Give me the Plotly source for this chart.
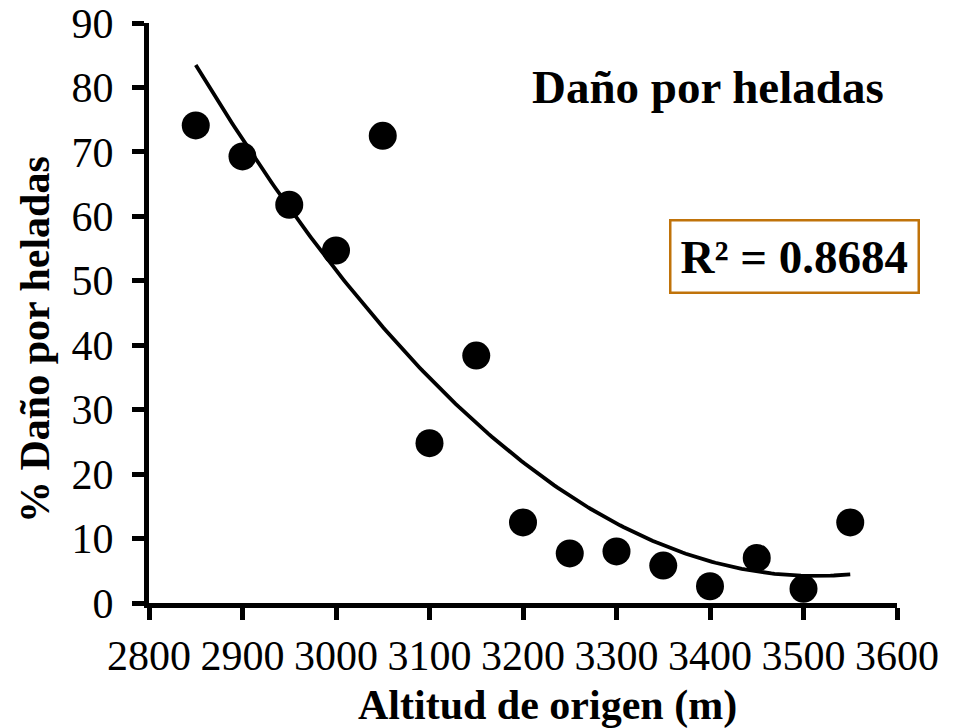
import numpy as np
import plotly.graph_objects as go

# Altitude of origin (m) and frost damage (%)
altitud = [2850, 2900, 2950, 3000, 3050, 3100, 3150, 3200,
           3250, 3300, 3350, 3400, 3450, 3500, 3550]
dano = [74.1, 69.3, 61.8, 54.7, 72.5, 24.8, 38.4, 12.5,
        7.7, 8.0, 5.8, 2.6, 7.0, 2.2, 12.5]

x_ticks = list(range(2800, 3601, 100))
y_ticks = list(range(0, 91, 10))

# Second-order polynomial trendline
coef = np.polyfit(altitud, dano, 2)
x_fit = np.linspace(min(altitud), max(altitud), 200)
y_fit = np.polyval(coef, x_fit)

FONT = "Liberation Serif"
L, R, T, B = 149, 56, 23, 125
W, H = 953, 728
PW, PH = W - L - R, H - T - B


def px_to_paper(px, py):
    return (px - L) / PW, (H - B - py) / PH


fig = go.Figure()
fig.add_trace(go.Scatter(
    x=altitud, y=dano, mode="markers",
    marker=dict(color="black", size=28, line=dict(width=0)),
    showlegend=False,
))
fig.add_trace(go.Scatter(
    x=x_fit, y=y_fit, mode="lines",
    line=dict(color="black", width=3.8),
    showlegend=False,
))

fig.add_annotation(
    x=3398, y=80.1, xref="x", yref="y",
    text="<b>Daño por heladas</b>", showarrow=False,
    xanchor="center", yanchor="middle",
    font=dict(family=FONT, size=47, color="black"),
)
fig.add_annotation(
    x=3490, y=53.7, xref="x", yref="y",
    text="<b>R² = 0.8684</b>", showarrow=False,
    xanchor="center", yanchor="middle",
    font=dict(family=FONT, size=47, color="black"),
    bordercolor="#C0730A", borderwidth=2.5, borderpad=9,
    bgcolor="white",
)

# Axis titles
xt_x, xt_y = px_to_paper(547, 705)
fig.add_annotation(
    x=xt_x, y=xt_y, xref="paper", yref="paper",
    xanchor="center", yanchor="middle",
    text="<b>Altitud de origen (m)</b>", showarrow=False,
    font=dict(family=FONT, size=42, color="black"),
)
yt_x, yt_y = px_to_paper(35, 340)
fig.add_annotation(
    x=yt_x, y=yt_y, xref="paper", yref="paper",
    xanchor="center", yanchor="middle",
    text="<b>% Daño por heladas</b>", showarrow=False, textangle=-90,
    font=dict(family=FONT, size=42, color="black"),
)

fig.update_layout(
    width=W, height=H,
    margin=dict(l=L, r=R, t=T, b=B, autoexpand=False),
    paper_bgcolor="white", plot_bgcolor="white",
    font=dict(family=FONT, color="black"),
    xaxis=dict(
        range=[2800, 3600], tickvals=x_ticks,
        ticktext=[str(v) for v in x_ticks],
        showgrid=False, zeroline=False, automargin=False,
        showline=True, linecolor="black", linewidth=5,
        ticks="outside", ticklen=12, tickwidth=5, tickcolor="black",
        tickfont=dict(family=FONT, size=42, color="black"),
    ),
    yaxis=dict(
        range=[0, 90], tickvals=y_ticks,
        ticktext=[str(v) for v in y_ticks],
        showgrid=False, zeroline=False, automargin=False,
        showline=True, linecolor="black", linewidth=5,
        ticks="outside", ticklen=12, tickwidth=5, tickcolor="black",
        ticklabelstandoff=10,
        tickfont=dict(family=FONT, size=42, color="black"),
    ),
)

fig.write_html("out.html")
